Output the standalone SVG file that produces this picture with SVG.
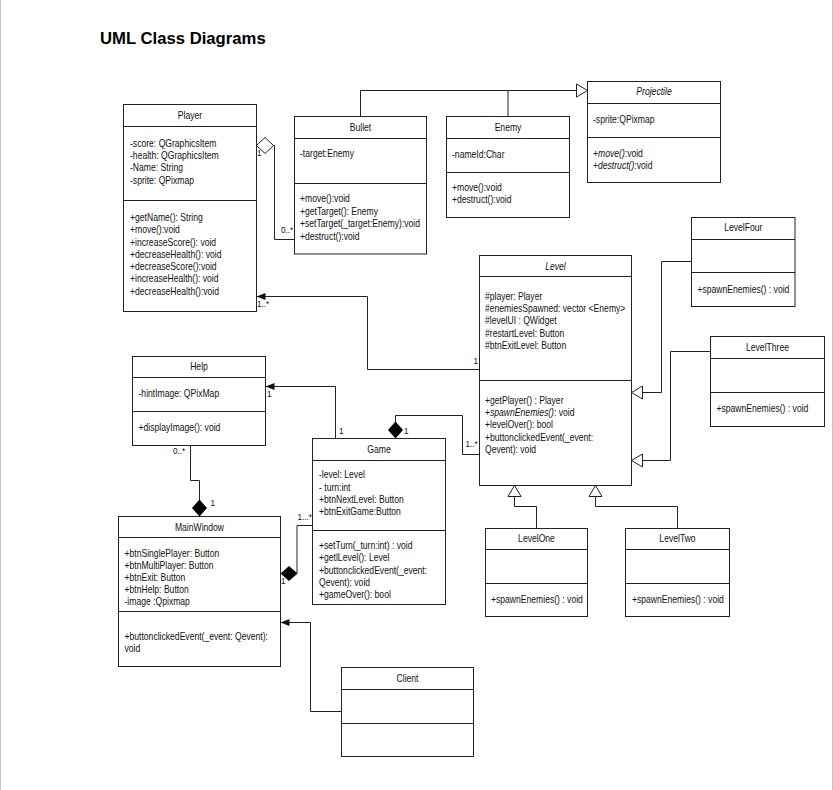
<svg xmlns="http://www.w3.org/2000/svg" width="833" height="790" viewBox="0 0 833 790">
<style>
.t{font-family:"Liberation Sans",Arial,sans-serif;font-size:10px;fill:#111}
.c{text-anchor:middle}
.i{font-style:italic}
.lb{font-family:"Liberation Sans",Arial,sans-serif;font-size:9.5px;fill:#111}
.box{fill:#fff;stroke:#222;stroke-width:1}
.sep{stroke:#222;stroke-width:1}
.ln{fill:none;stroke:#222;stroke-width:1}
.h1{font-family:"Liberation Sans",Arial,sans-serif;font-size:16.7px;font-weight:bold;fill:#000}
</style>
<defs>
<marker id="tri" markerUnits="userSpaceOnUse" orient="auto" markerWidth="12" markerHeight="14" viewBox="0 0 12 14" refX="11.5" refY="7" overflow="visible"><path d="M0.5,0.5 L11.5,7 L0.5,13.5 Z" fill="#fff" stroke="#222" stroke-width="1"/></marker>
<marker id="arr" markerUnits="userSpaceOnUse" orient="auto" markerWidth="9" markerHeight="7" viewBox="0 0 9 7" refX="9" refY="3.5" overflow="visible"><path d="M0,0 L9,3.5 L0,7 Z" fill="#111"/></marker>
<marker id="dia" markerUnits="userSpaceOnUse" orient="auto" markerWidth="17" markerHeight="15" viewBox="0 0 17 15" refX="0" refY="7.5" overflow="visible"><path d="M0,7.5 L8.5,0 L17,7.5 L8.5,15 Z" fill="#000"/></marker>
<marker id="diah" markerUnits="userSpaceOnUse" orient="auto" markerWidth="17" markerHeight="16" viewBox="0 0 17 16" refX="0" refY="8" overflow="visible"><path d="M0,8 L8.5,0 L17,8 L8.5,16 Z" fill="#fff" stroke="#222" stroke-width="1"/></marker>
</defs>
<rect x="0" y="0" width="833" height="790" fill="#fff"/>
<line x1="0.5" y1="0" x2="0.5" y2="790" stroke="#c4c4c4"/>
<line x1="832.5" y1="0" x2="832.5" y2="790" stroke="#c4c4c4"/>
<text class="h1" x="100" y="43.5">UML Class Diagrams</text>

<g id="connectors">
<path class="ln" d="M360.5,116.5 V90.5 H587.5" marker-end="url(#tri)"/>
<path class="ln" d="M508,116.5 V90.5"/>
<path class="ln" d="M256.5,145.5 H274.5 V239.5 H294.5" marker-start="url(#diah)"/>
<path class="ln" d="M479.5,369.5 H367.5 V296.5 H256.5" marker-end="url(#arr)"/>
<path class="ln" d="M335.5,438.5 V386.5 H265.5" marker-end="url(#arr)"/>
<path class="ln" d="M395.5,438.5 V415.5 H462.5 V454.5 H479.5" marker-start="url(#dia)"/>
<path class="ln" d="M199.5,516.5 V480.5 H190.5 V445.5" marker-start="url(#dia)"/>
<path class="ln" d="M280.5,573.5 H297 V525.5 H312.5" marker-start="url(#dia)"/>
<path class="ln" d="M341.5,711.5 H310.5 V622.5 H280.5" marker-end="url(#arr)"/>
<path class="ln" d="M691.5,261.5 H661.5 V392.5 H631.5" marker-end="url(#tri)"/>
<path class="ln" d="M710.5,351.5 H670.5 V460.5 H631.5" marker-end="url(#tri)"/>
<path class="ln" d="M536.5,528.5 V506.5 H514.5 V485.5" marker-end="url(#tri)"/>
<path class="ln" d="M677.5,528.5 V506.5 H595.5 V485.5" marker-end="url(#tri)"/>
<text class="lb" transform="translate(257 156) scale(0.86 1)">1</text>
<text class="lb" transform="translate(281 233) scale(0.86 1)">0..*</text>
<text class="lb" transform="translate(257 307) scale(0.86 1)">1..*</text>
<text class="lb" transform="translate(473.5 364) scale(0.86 1)">1</text>
<text class="lb" transform="translate(267 397) scale(0.86 1)">1</text>
<text class="lb" transform="translate(339 434) scale(0.86 1)">1</text>
<text class="lb" transform="translate(404 434) scale(0.86 1)">1</text>
<text class="lb" transform="translate(465.5 447) scale(0.86 1)">1..*</text>
<text class="lb" transform="translate(173 454) scale(0.86 1)">0..*</text>
<text class="lb" transform="translate(210.5 505.5) scale(0.86 1)">1</text>
<text class="lb" transform="translate(297.5 520) scale(0.86 1)">1...*</text>
<text class="lb" transform="translate(281 584) scale(0.86 1)">1</text>
</g>

<g id="player">
<rect class="box" x="123.5" y="104.5" width="133" height="207"/>
<line class="sep" x1="123.5" y1="126.5" x2="256.5" y2="126.5"/>
<line class="sep" x1="123.5" y1="200.5" x2="256.5" y2="200.5"/>
<text class="t c" transform="translate(190 118.5) scale(0.86 1)">Player</text>
<g transform="translate(130 0) scale(0.86 1)">
<text class="t" y="147">-score: QGraphicsItem</text>
<text class="t" y="159.5">-health: QGraphicsItem</text>
<text class="t" y="171.5">-Name: String</text>
<text class="t" y="184">-sprite: QPixmap</text>
<text class="t" y="221.5">+getName(): String</text>
<text class="t" y="233.5">+move():void</text>
<text class="t" y="246">+increaseScore(): void</text>
<text class="t" y="258">+decreaseHealth(): void</text>
<text class="t" y="270.5">+decreaseScore():void</text>
<text class="t" y="282.5">+increaseHealth(): void</text>
<text class="t" y="295">+decreaseHealth():void</text>
</g>
</g>

<g id="bullet">
<rect class="box" x="294.5" y="116.5" width="132" height="137.5"/>
<line class="sep" x1="294.5" y1="138.5" x2="426.5" y2="138.5"/>
<line class="sep" x1="294.5" y1="183.5" x2="426.5" y2="183.5"/>
<text class="t c" transform="translate(360.5 130.5) scale(0.86 1)">Bullet</text>
<g transform="translate(300 0) scale(0.86 1)">
<text class="t" y="157">-target:Enemy</text>
<text class="t" y="202.5">+move():void</text>
<text class="t" y="215">+getTarget(): Enemy</text>
<text class="t" y="227.5">+setTarget(_target:Enemy):void</text>
<text class="t" y="240">+destruct():void</text>
</g>
</g>

<g id="enemy">
<rect class="box" x="446.5" y="116.5" width="123" height="101"/>
<line class="sep" x1="446.5" y1="138.5" x2="569.5" y2="138.5"/>
<line class="sep" x1="446.5" y1="172.5" x2="569.5" y2="172.5"/>
<text class="t c" transform="translate(508 130.5) scale(0.86 1)">Enemy</text>
<g transform="translate(452 0) scale(0.86 1)">
<text class="t" y="158">-nameId:Char</text>
<text class="t" y="191">+move():void</text>
<text class="t" y="203.5">+destruct():void</text>
</g>
</g>

<g id="projectile">
<rect class="box" x="587.5" y="81.5" width="133" height="101"/>
<line class="sep" x1="587.5" y1="103.5" x2="720.5" y2="103.5"/>
<line class="sep" x1="587.5" y1="137.5" x2="720.5" y2="137.5"/>
<text class="t c i" transform="translate(654 95) scale(0.86 1)">Projectile</text>
<g transform="translate(593 0) scale(0.86 1)">
<text class="t" y="123">-sprite:QPixmap</text>
<text class="t" y="157">+<tspan class="i">move()</tspan>:void</text>
<text class="t" y="169">+<tspan class="i">destruct()</tspan>:void</text>
</g>
</g>

<g id="level">
<rect class="box" x="479.5" y="255.5" width="152" height="230"/>
<line class="sep" x1="479.5" y1="276.5" x2="631.5" y2="276.5"/>
<line class="sep" x1="479.5" y1="380.5" x2="631.5" y2="380.5"/>
<text class="t c i" transform="translate(555.5 269.5) scale(0.86 1)">Level</text>
<g transform="translate(485 0) scale(0.86 1)">
<text class="t" y="300">#player: Player</text>
<text class="t" y="312.5">#enemiesSpawned: vector &lt;Enemy&gt;</text>
<text class="t" y="324.5">#levelUI : QWidget</text>
<text class="t" y="337">#restartLevel: Button</text>
<text class="t" y="349">#btnExitLevel: Button</text>
<text class="t" y="404">+getPlayer() : Player</text>
<text class="t" y="416.5">+<tspan class="i">spawnEnemies()</tspan>: void</text>
<text class="t" y="428.5">+levelOver(): bool</text>
<text class="t" y="441">+buttonclickedEvent(_event:</text>
<text class="t" y="453">Qevent): void</text>
</g>
</g>

<g id="levelfour">
<rect class="box" x="691.5" y="217.5" width="103.5" height="89"/>
<line class="sep" x1="691.5" y1="239.5" x2="795" y2="239.5"/>
<line class="sep" x1="691.5" y1="272.5" x2="795" y2="272.5"/>
<text class="t c" transform="translate(743.3 231) scale(0.86 1)">LevelFour</text>
<text class="t" transform="translate(697.5 292.5) scale(0.86 1)">+spawnEnemies() : void</text>
</g>

<g id="levelthree">
<rect class="box" x="710.5" y="336.5" width="114" height="90"/>
<line class="sep" x1="710.5" y1="358.5" x2="824.5" y2="358.5"/>
<line class="sep" x1="710.5" y1="392.5" x2="824.5" y2="392.5"/>
<text class="t c" transform="translate(767.5 350.5) scale(0.86 1)">LevelThree</text>
<text class="t" transform="translate(716.5 411.5) scale(0.86 1)">+spawnEnemies() : void</text>
</g>

<g id="help">
<rect class="box" x="132.5" y="356.5" width="133" height="89"/>
<line class="sep" x1="132.5" y1="377.5" x2="265.5" y2="377.5"/>
<line class="sep" x1="132.5" y1="411.5" x2="265.5" y2="411.5"/>
<text class="t c" transform="translate(199 370) scale(0.86 1)">Help</text>
<g transform="translate(138.5 0) scale(0.86 1)">
<text class="t" y="397.5">-hintImage: QPixMap</text>
<text class="t" y="431.5">+displayImage(): void</text>
</g>
</g>

<g id="mainwindow">
<rect class="box" x="118.5" y="516.5" width="162" height="150"/>
<line class="sep" x1="118.5" y1="537.5" x2="280.5" y2="537.5"/>
<line class="sep" x1="118.5" y1="611.5" x2="280.5" y2="611.5"/>
<text class="t c" transform="translate(199.5 530.5) scale(0.86 1)">MainWindow</text>
<g transform="translate(124.5 0) scale(0.86 1)">
<text class="t" y="557">+btnSinglePlayer: Button</text>
<text class="t" y="569">+btnMultiPlayer: Button</text>
<text class="t" y="581.5">+btnExit: Button</text>
<text class="t" y="593.5">+btnHelp: Button</text>
<text class="t" y="605.5">-image :Qpixmap</text>
<text class="t" y="640">+buttonclickedEvent(_event: Qevent):</text>
<text class="t" y="652.5">void</text>
</g>
</g>

<g id="game">
<rect class="box" x="312.5" y="438.5" width="133" height="166"/>
<line class="sep" x1="312.5" y1="460.5" x2="445.5" y2="460.5"/>
<line class="sep" x1="312.5" y1="530.5" x2="445.5" y2="530.5"/>
<text class="t c" transform="translate(379 452.5) scale(0.86 1)">Game</text>
<g transform="translate(319 0) scale(0.86 1)">
<text class="t" y="478.5">-level: Level</text>
<text class="t" y="491">- turn:int</text>
<text class="t" y="503">+btnNextLevel: Button</text>
<text class="t" y="515.5">+btnExitGame:Button</text>
<text class="t" y="549">+setTurn(_turn:int) : void</text>
<text class="t" y="561.5">+getlLevel(): Level</text>
<text class="t" y="574">+buttonclickedEvent(_event:</text>
<text class="t" y="586">Qevent): void</text>
<text class="t" y="598.5">+gameOver(): bool</text>
</g>
</g>

<g id="levelone">
<rect class="box" x="485.5" y="528.5" width="102" height="88"/>
<line class="sep" x1="485.5" y1="549.5" x2="587.5" y2="549.5"/>
<line class="sep" x1="485.5" y1="583.5" x2="587.5" y2="583.5"/>
<text class="t c" transform="translate(536.5 542) scale(0.86 1)">LevelOne</text>
<text class="t" transform="translate(491 602.5) scale(0.86 1)">+spawnEnemies() : void</text>
</g>

<g id="leveltwo">
<rect class="box" x="625.5" y="528.5" width="104" height="88"/>
<line class="sep" x1="625.5" y1="549.5" x2="729.5" y2="549.5"/>
<line class="sep" x1="625.5" y1="583.5" x2="729.5" y2="583.5"/>
<text class="t c" transform="translate(677.5 542) scale(0.86 1)">LevelTwo</text>
<text class="t" transform="translate(632 602.5) scale(0.86 1)">+spawnEnemies() : void</text>
</g>

<g id="client">
<rect class="box" x="341.5" y="667.5" width="132" height="89"/>
<line class="sep" x1="341.5" y1="689.5" x2="473.5" y2="689.5"/>
<line class="sep" x1="341.5" y1="723.5" x2="473.5" y2="723.5"/>
<text class="t c" transform="translate(407.5 682) scale(0.86 1)">Client</text>
</g>
</svg>
